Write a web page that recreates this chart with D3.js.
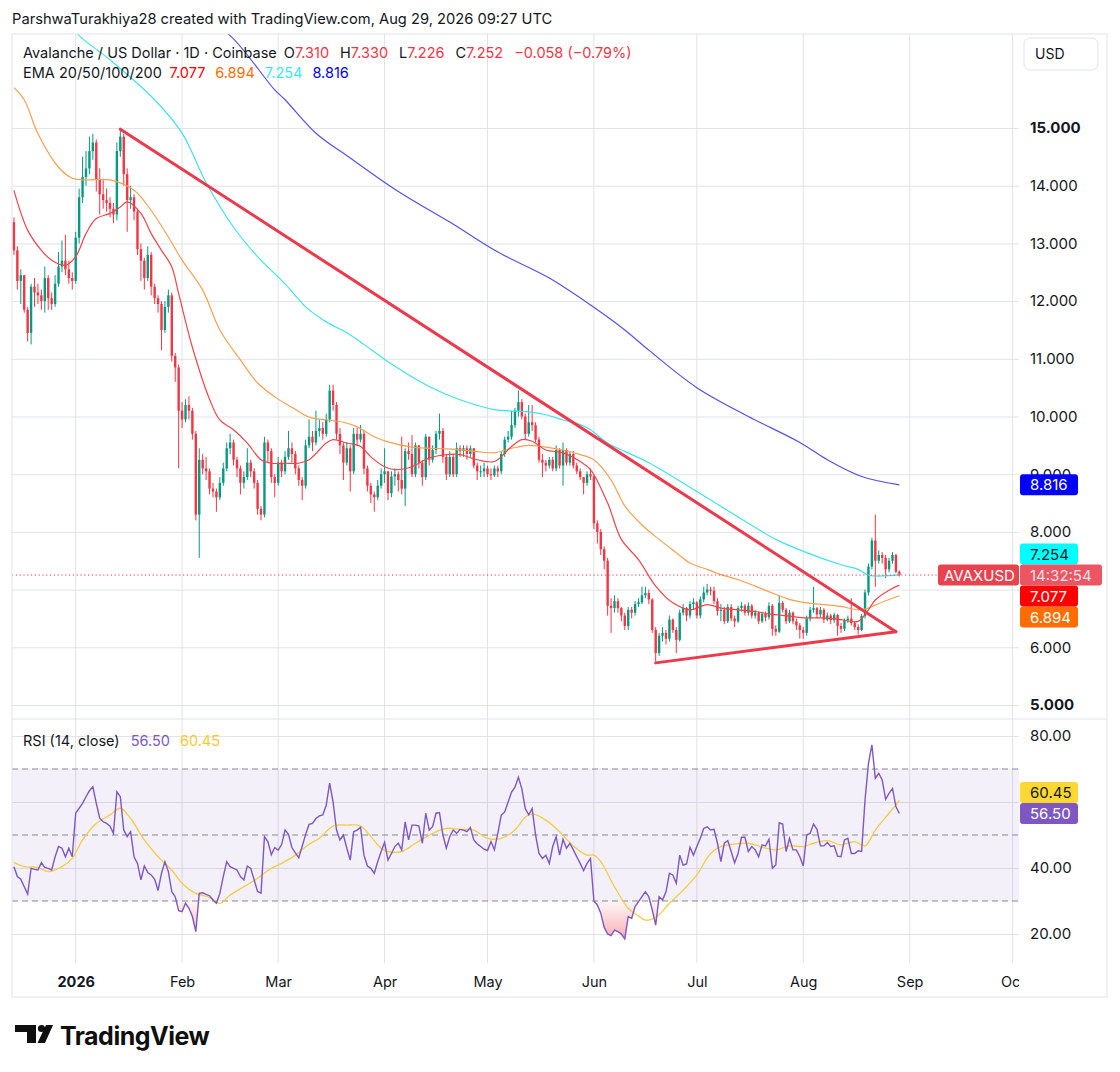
<!DOCTYPE html>
<html>
<head>
<meta charset="utf-8">
<script src="https://cdn.jsdelivr.net/npm/d3@7"></script>
<style>
  body { margin: 0; background: #fff; }
  svg { display: block; font-family: Inter, Roboto, "Noto Sans", sans-serif; }
</style>
</head>
<body>
<div id="vis"></div>
<script>
// daily AVAX/USD candles from 2025-12-14 to 2026-08-29 (open = previous close)
const firstDay = "2025-12-14";
const firstOpen = 13.37;
const closes = [
  12.88, 12.35, 12.45, 11.85, 11.45, 12.25, 12.15, 12.1, 12.0, 12.4, 12.05, 11.95, 12.3, 12.6, 12.7, 12.55, 12.4, 12.35,
  13.1, 13.8, 14.15, 14.3, 14.6, 14.75, 14.1, 13.85, 13.75, 13.7, 13.6, 13.5, 14.6, 14.85, 14.2, 13.75, 13.8, 13.55, 12.9, 12.7, 12.4, 12.8, 12.25, 12.05, 11.95, 11.5, 11.9, 12.1, 11.05, 10.85, 10.1,
  9.95, 10.2, 10.1, 9.7, 8.3, 9.25, 9.1, 9.05, 8.75, 8.7, 8.6, 8.85, 9.1, 9.45, 9.55, 9.25, 9.1, 8.85, 8.95, 9.2, 9.05, 8.85, 8.4, 8.3, 9.55, 9.4, 8.95, 8.85,
  9.2, 9.05, 9.3, 9.45, 9.35, 9.1, 8.9, 8.8, 9.5, 9.65, 9.55, 9.75, 9.8, 9.7, 9.95, 10.45, 10.2, 9.7, 9.5, 9.2, 9.45, 9.05, 9.7, 9.6, 9.7, 9.1, 8.8, 8.65, 8.6, 8.8, 9.0,
  9.05, 8.67, 8.96, 9.0, 8.9, 8.75, 9.4, 9.35, 9.0, 9.5, 9.2, 8.95, 9.65, 9.25, 9.42, 9.7, 9.75, 9.3, 9.0, 9.3, 9.0, 9.45, 9.4, 9.45, 9.35, 9.45, 9.15, 9.05, 9.05, 9.1,
  9.0, 8.98, 9.1, 9.05, 9.35, 9.6, 9.65, 9.85, 10.1, 10.25, 10.0, 9.7, 9.9, 9.85, 9.6, 9.25, 9.2, 9.15, 9.25, 9.1, 9.42, 9.15, 9.42, 9.2, 9.35, 9.15, 9.05, 8.95, 8.85, 9.0, 8.96,
  8.15, 8.0, 7.7, 7.5, 6.72, 6.68, 6.8, 6.68, 6.55, 6.37, 6.65, 6.6, 6.75, 6.78, 6.9, 6.94, 6.83, 6.3, 5.9, 6.2, 6.25, 6.15, 6.48, 6.3, 6.13, 6.6, 6.68, 6.55, 6.75, 6.78,
  6.55, 6.83, 6.95, 7.0, 6.98, 6.8, 6.63, 6.65, 6.45, 6.7, 6.5, 6.45, 6.68, 6.72, 6.6, 6.72, 6.55, 6.6, 6.45, 6.58, 6.52, 6.72, 6.32, 6.27, 6.77, 6.65, 6.45, 6.6, 6.45, 6.38, 6.3,
  6.25, 6.5, 6.65, 6.68, 6.57, 6.65, 6.48, 6.55, 6.47, 6.56, 6.37, 6.32, 6.47, 6.5, 6.42, 6.35, 6.3, 6.54, 6.95, 7.4, 7.85, 7.5, 7.6, 7.55, 7.35, 7.5, 7.6, 7.31, 7.252
];
const highs = [
  13.45, 12.95, 12.55, 12.45, 11.9, 12.3, 12.4, 12.3, 12.2, 12.6, 12.45, 12.15, 12.45, 12.85, 13.05, 13.15, 12.7, 12.5,
  13.2, 13.95, 14.5, 14.6, 14.85, 14.9, 14.8, 14.3, 14.1, 13.95, 13.8, 13.7, 14.75, 15.0, 14.9, 14.3, 14.0, 13.85, 13.6, 13.0, 12.75, 12.95, 12.85, 12.3, 12.1, 12.0, 12.0, 12.2, 12.15, 11.1, 10.9,
  10.25, 10.3, 10.35, 10.15, 9.75, 9.45, 9.35, 9.3, 9.1, 8.85, 8.75, 8.95, 9.2, 9.55, 9.7, 9.6, 9.3, 9.15, 9.05, 9.45, 9.25, 9.1, 8.9, 8.45, 9.65, 9.6, 9.45, 9.0,
  9.3, 9.25, 9.4, 9.75, 9.55, 9.4, 9.15, 8.95, 9.6, 9.95, 9.75, 10.1, 9.95, 9.9, 10.05, 10.55, 10.55, 10.25, 9.8, 9.55, 9.55, 9.5, 9.8, 9.8, 9.85, 9.75, 9.15, 8.85, 8.7, 8.9, 9.1,
  9.45, 9.05, 9.05, 9.1, 9.05, 9.65, 9.45, 9.55, 9.68, 9.55, 9.5, 9.25, 9.7, 9.65, 9.5, 9.75, 10.05, 9.8, 9.35, 9.4, 9.35, 9.55, 9.5, 9.5, 9.5, 9.5, 9.45, 9.2, 9.15, 9.2,
  9.15, 9.1, 9.15, 9.15, 9.4, 9.65, 9.75, 10.1, 10.15, 10.45, 10.3, 10.05, 10.2, 10.2, 9.9, 9.65, 9.35, 9.25, 9.3, 9.3, 9.5, 9.45, 9.55, 9.45, 9.4, 9.4, 9.2, 9.1, 8.95, 9.05, 9.1,
  8.98, 8.2, 8.05, 7.75, 7.55, 6.85, 6.9, 6.85, 6.7, 6.6, 6.7, 6.7, 6.8, 6.85, 7.05, 7.05, 7.0, 6.85, 6.35, 6.25, 6.35, 6.3, 6.55, 6.5, 6.35, 6.65, 6.75, 6.7, 6.8, 6.85,
  6.8, 6.88, 7.05, 7.1, 7.05, 7.05, 6.85, 6.75, 6.7, 6.75, 6.75, 6.55, 6.72, 6.78, 6.75, 6.78, 6.75, 6.65, 6.62, 6.62, 6.62, 6.78, 6.75, 6.38, 6.9, 6.8, 6.68, 6.65, 6.62, 6.5, 6.42,
  6.35, 6.55, 6.7, 7.05, 6.7, 6.7, 6.68, 6.6, 6.58, 6.6, 6.58, 6.42, 6.5, 6.55, 6.85, 6.45, 6.4, 6.58, 7.0, 7.45, 7.9, 8.3, 7.68, 7.65, 7.6, 7.55, 7.65, 7.62, 7.33
];
const lows = [
  12.8, 12.2, 11.95, 11.8, 11.3, 11.25, 11.9, 11.95, 11.85, 11.8, 11.85, 11.85, 11.9, 12.25, 12.5, 12.45, 12.3, 12.2,
  12.3, 13.0, 13.7, 14.0, 14.2, 14.45, 13.9, 13.5, 13.6, 13.55, 13.45, 13.35, 13.4, 14.5, 14.0, 13.2, 13.6, 13.4, 12.8, 12.35, 12.2, 12.35, 12.1, 11.95, 11.8, 11.15, 11.45, 11.8, 10.95, 10.6, 9.1,
  9.8, 9.9, 9.95, 9.6, 8.2, 7.55, 9.0, 8.9, 8.65, 8.6, 8.35, 8.55, 8.8, 9.05, 9.35, 9.15, 8.95, 8.65, 8.75, 8.9, 8.95, 8.75, 8.3, 8.2, 8.25, 9.2, 8.85, 8.6,
  8.8, 8.95, 9.0, 9.25, 9.2, 9.0, 8.8, 8.55, 8.75, 9.45, 9.4, 9.5, 9.65, 9.6, 9.65, 9.9, 10.1, 9.6, 9.35, 8.9, 9.15, 8.7, 9.0, 9.5, 9.55, 9.0, 8.7, 8.5, 8.35, 8.55, 8.75,
  8.85, 8.55, 8.6, 8.8, 8.7, 8.65, 8.45, 9.25, 8.95, 8.95, 9.1, 8.8, 8.9, 9.15, 9.2, 9.35, 9.6, 9.2, 8.9, 8.95, 8.95, 8.95, 9.3, 9.3, 9.25, 9.3, 9.1, 8.9, 8.95, 8.95,
  8.95, 8.9, 8.95, 8.95, 9.0, 9.3, 9.55, 9.6, 9.8, 10.0, 9.95, 9.6, 9.65, 9.75, 9.55, 9.2, 8.95, 9.05, 9.1, 9.05, 9.05, 9.1, 8.8, 9.15, 9.15, 9.1, 9.0, 8.9, 8.65, 8.8, 8.9,
  8.05, 7.8, 7.6, 7.35, 6.55, 6.25, 6.6, 6.6, 6.45, 6.3, 6.3, 6.5, 6.55, 6.7, 6.75, 6.85, 6.75, 6.25, 5.75, 5.85, 6.1, 6.05, 6.1, 6.25, 5.9, 6.1, 6.55, 6.45, 6.5, 6.65,
  6.5, 6.5, 6.78, 6.9, 6.9, 6.75, 6.55, 6.45, 6.4, 6.42, 6.45, 6.35, 6.42, 6.62, 6.55, 6.55, 6.5, 6.5, 6.4, 6.42, 6.45, 6.48, 6.2, 6.2, 6.25, 6.6, 6.4, 6.42, 6.4, 6.3, 6.15,
  6.15, 6.2, 6.45, 6.6, 6.5, 6.52, 6.42, 6.45, 6.4, 6.42, 6.2, 6.25, 6.28, 6.42, 6.38, 6.3, 6.22, 6.28, 6.5, 6.9, 7.35, 7.05, 7.45, 7.45, 7.2, 7.3, 7.45, 7.28, 7.226
];

// EMA lines
const ema20 = [["2025-12-14",13.92],["2025-12-18",13.23],["2025-12-22",12.88],["2025-12-25",12.71],["2025-12-29",12.62],["2026-01-01",12.77],["2026-01-04",13.17],["2026-01-07",13.43],["2026-01-11",13.52],["2026-01-14",13.63],["2026-01-16",13.72],["2026-01-20",13.52],["2026-01-23",13.17],["2026-01-26",12.88],["2026-01-29",12.59],["2026-01-31",12.13],["2026-02-04",11.2],["2026-02-09",10.3],["2026-02-12",9.94],["2026-02-16",9.77],["2026-02-20",9.54],["2026-02-24",9.25],["2026-02-27",9.19],["2026-03-03",9.19],["2026-03-07",9.19],["2026-03-10",9.25],["2026-03-15",9.54],["2026-03-17",9.6],["2026-03-21",9.54],["2026-03-25",9.48],["2026-03-28",9.3],["2026-04-01",9.13],["2026-04-04",9.08],["2026-04-09",9.13],["2026-04-14",9.28],["2026-04-19",9.34],["2026-04-23",9.34],["2026-04-28",9.25],["2026-05-03",9.22],["2026-05-08",9.48],["2026-05-11",9.6],["2026-05-14",9.57],["2026-05-18",9.42],["2026-05-23",9.37],["2026-05-28",9.22],["2026-05-31",9.08],["2026-06-05",8.5],["2026-06-09",7.87],["2026-06-14",7.52],["2026-06-19",7.06],["2026-06-24",6.77],["2026-06-29",6.65],["2026-07-04",6.74],["2026-07-08",6.68],["2026-07-13",6.65],["2026-07-18",6.62],["2026-07-23",6.57],["2026-07-28",6.54],["2026-08-02",6.51],["2026-08-07",6.51],["2026-08-12",6.48],["2026-08-17",6.45],["2026-08-20",6.65],["2026-08-22",6.82],["2026-08-26",6.99],["2026-08-29",7.077]];
const ema50 = [["2025-12-14",15.7],["2025-12-17",15.49],["2025-12-21",14.9],["2025-12-27",14.32],["2025-12-31",14.13],["2026-01-04",14.1],["2026-01-11",14.1],["2026-01-18",13.92],["2026-01-23",13.57],["2026-01-28",13.11],["2026-02-01",12.71],["2026-02-07",12.19],["2026-02-12",11.5],["2026-02-18",10.98],["2026-02-23",10.58],["2026-02-28",10.34],["2026-03-05",10.16],["2026-03-10",9.99],["2026-03-15",9.94],["2026-03-20",9.9],["2026-03-24",9.82],["2026-03-29",9.65],["2026-04-02",9.56],["2026-04-09",9.47],["2026-04-14",9.45],["2026-04-19",9.44],["2026-04-23",9.42],["2026-04-28",9.39],["2026-05-03",9.37],["2026-05-08",9.45],["2026-05-13",9.5],["2026-05-18",9.47],["2026-05-23",9.42],["2026-05-28",9.34],["2026-06-01",9.25],["2026-06-06",8.9],["2026-06-10",8.45],["2026-06-15",8.12],["2026-06-20",7.87],["2026-06-25",7.64],["2026-06-29",7.46],["2026-07-04",7.35],["2026-07-08",7.26],["2026-07-13",7.17],["2026-07-18",7.06],["2026-07-23",6.94],["2026-07-28",6.83],["2026-08-02",6.77],["2026-08-07",6.74],["2026-08-12",6.71],["2026-08-17",6.65],["2026-08-20",6.68],["2026-08-23",6.76],["2026-08-29",6.894]];
const ema100 = [["2025-12-28",16.95],["2026-01-02",16.6],["2026-01-11",16.18],["2026-01-24",15.49],["2026-02-01",14.91],["2026-02-08",14.05],["2026-02-16",13.28],["2026-02-23",12.77],["2026-03-03",12.3],["2026-03-09",11.9],["2026-03-15",11.64],["2026-03-21",11.45],["2026-03-26",11.25],["2026-04-02",10.95],["2026-04-14",10.52],["2026-04-23",10.29],["2026-05-03",10.12],["2026-05-13",10.08],["2026-05-18",10.03],["2026-05-23",9.94],["2026-05-28",9.86],["2026-05-31",9.77],["2026-06-05",9.54],["2026-06-17",9.2],["2026-07-01",8.7],["2026-07-16",8.15],["2026-07-24",7.87],["2026-08-02",7.64],["2026-08-12",7.43],["2026-08-17",7.35],["2026-08-20",7.25],["2026-08-29",7.254]];
const ema200 = [["2026-02-05",17.0],["2026-02-15",16.6],["2026-02-28",15.66],["2026-03-03",15.49],["2026-03-12",14.91],["2026-03-22",14.48],["2026-04-05",13.9],["2026-04-20",13.37],["2026-05-04",12.85],["2026-05-19",12.4],["2026-06-02",11.85],["2026-06-10",11.5],["2026-06-17",11.15],["2026-07-01",10.5],["2026-07-16",10.0],["2026-07-31",9.55],["2026-08-08",9.25],["2026-08-18",8.96],["2026-08-29",8.816]];

// drawn trendlines (triangle)
const trendUpper = [["2026-01-14",14.98],["2026-08-28",6.27]];
const trendLower = [["2026-06-19",5.73],["2026-08-28",6.27]];

// RSI(14), one value per candle
const rsiValues = [
  40.4, 37.4, 36.6, 34.3, 32.1, 39.9, 39.6, 39.4, 41.6, 40.2, 39.9, 39.4, 43.4, 46.5, 46.0, 43.4, 46.0, 43.4,
  56.6, 58.1, 59.6, 61.6, 63.4, 64.6, 59.6, 55.1, 54.0, 53.5, 52.7, 50.5, 63.1, 61.6, 51.5, 49.5, 51.0, 43.4, 41.4, 36.4, 40.6, 38.6, 37.9, 36.6, 33.2, 38.4, 41.9, 38.9, 32.8, 31.3, 27.1,
  26.8, 29.3, 27.8, 25.3, 20.7, 32.3, 32.5, 32.0, 31.6, 30.3, 29.3, 32.3, 37.4, 41.9, 40.4, 39.9, 39.4, 37.4, 36.4, 40.6, 39.9, 36.4, 32.9, 32.4, 49.5, 48.0, 44.0, 46.2,
  45.4, 47.1, 51.5, 50.2, 46.2, 44.6, 43.1, 46.6, 50.2, 53.2, 53.5, 55.0, 55.8, 56.1, 59.0, 65.7, 60.0, 51.5, 48.5, 50.0, 46.0, 42.4, 51.0, 51.5, 52.3, 43.9, 40.6, 39.9, 38.4, 41.9, 45.0,
  47.8, 42.4, 44.4, 46.5, 47.5, 45.5, 54.0, 48.5, 53.0, 53.0, 52.7, 47.5, 56.6, 51.5, 52.5, 56.6, 56.8, 50.0, 46.0, 49.5, 51.5, 50.5, 51.7, 51.5, 51.0, 52.3, 48.5, 47.3, 46.5, 45.7,
  45.3, 48.0, 45.5, 50.5, 56.0, 57.0, 60.0, 63.0, 64.5, 67.5, 64.0, 58.0, 56.1, 58.0, 50.0, 44.4, 42.9, 43.9, 41.4, 46.5, 49.5, 43.9, 48.7, 46.0, 47.5, 45.5, 43.4, 41.4, 39.2, 41.4, 42.9,
  30.0, 28.8, 26.3, 22.0, 20.0, 19.5, 21.2, 20.7, 20.0, 18.5, 25.3, 24.7, 28.3, 29.8, 31.3, 32.8, 31.3, 27.3, 22.7, 31.3, 30.3, 32.8, 38.4, 37.9, 35.4, 43.9, 40.9, 41.2, 46.3, 43.9,
  46.5, 49.0, 52.0, 52.5, 51.5, 51.7, 47.5, 41.9, 47.5, 48.3, 45.0, 41.6, 44.4, 49.3, 49.3, 45.0, 46.5, 45.5, 43.4, 47.0, 46.7, 48.7, 39.9, 40.9, 53.7, 53.3, 45.0, 49.0, 45.5, 45.5, 43.4,
  40.6, 50.0, 50.5, 53.3, 51.7, 46.7, 46.7, 47.7, 46.5, 46.7, 43.6, 43.4, 48.5, 49.0, 44.4, 44.4, 45.2, 45.0, 60.6, 71.7, 77.3, 67.2, 68.7, 66.7, 60.8, 62.6, 64.1, 58.6, 56.5
];
// RSI-based moving average
const rsiMa = [["2025-12-14",41.7],["2025-12-17",40.4],["2025-12-21",40.2],["2025-12-24",38.9],["2025-12-28",40.4],["2025-12-31",42.9],["2026-01-03",48.5],["2026-01-07",53.5],["2026-01-11",56.1],["2026-01-14",58.1],["2026-01-17",55],["2026-01-21",48.5],["2026-01-25",43.4],["2026-01-29",39.4],["2026-02-01",35.4],["2026-02-05",32.3],["2026-02-09",31.1],["2026-02-12",29.3],["2026-02-15",31.8],["2026-02-19",34.3],["2026-02-23",36.9],["2026-02-27",39.9],["2026-03-02",41.4],["2026-03-06",43.9],["2026-03-10",47.2],["2026-03-13",49],["2026-03-17",52.7],["2026-03-21",53],["2026-03-25",52.7],["2026-03-28",49.5],["2026-03-31",46],["2026-04-02",45],["2026-04-06",45],["2026-04-10",47.5],["2026-04-15",50.5],["2026-04-19",52],["2026-04-23",51.7],["2026-04-27",51.5],["2026-05-01",49],["2026-05-05",49],["2026-05-09",51.5],["2026-05-12",55.4],["2026-05-14",56.4],["2026-05-18",54.5],["2026-05-22",51],["2026-05-26",46.7],["2026-05-30",43.9],["2026-06-01",43.9],["2026-06-03",41.9],["2026-06-07",34.3],["2026-06-11",27.8],["2026-06-14",25.5],["2026-06-16",24.2],["2026-06-19",25],["2026-06-23",29.3],["2026-06-27",33.3],["2026-07-01",37.9],["2026-07-05",44.4],["2026-07-08",46.5],["2026-07-12",47.3],["2026-07-16",47.5],["2026-07-20",46.3],["2026-07-24",45.5],["2026-07-28",46.7],["2026-08-01",46.5],["2026-08-04",47.5],["2026-08-08",48.3],["2026-08-12",47],["2026-08-16",48],["2026-08-19",46.7],["2026-08-22",51.5],["2026-08-26",56.6],["2026-08-29",60.45]];

const priceTicks = [5, 6, 7, 8, 9, 10, 11, 12, 13, 14, 15];
const rsiTicks = [20, 40, 60, 80];
const rsiLevels = [30, 50, 70];
const monthNames = ["2026", "Feb", "Mar", "Apr", "May", "Jun", "Jul", "Aug", "Sep", "Oct"];
const countdown = "14:32:54";

// ---- layout ----
const W = 1120, H = 1072;
const paneL = 12, paneR = 1019, frameR = 1107;
const paneTop = 34, priceBot = 719, rsiBot = 963, frameBot = 997;
const ink = "#131722", upCol = "#089981", downCol = "#f23645", grid = "#e1e3e8";
const parse = d3.utcParse("%Y-%m-%d");
const fmt3 = d3.format(".3f"), fmt2 = d3.format(".2f");

const x = d3.scaleUtc().domain([new Date(Date.UTC(2026, 0, 1)), new Date(Date.UTC(2026, 9, 1))]).range([75.7, 1012.6]);
const y = d3.scaleLinear().domain([5, 15]).range([705, 128]);
const yR = d3.scaleLinear().domain([20, 80]).range([934, 736]);
const dayW = x(new Date(Date.UTC(2026, 0, 2))) - x(new Date(Date.UTC(2026, 0, 1)));

const candles = closes.map((c, i) => ({
  date: d3.utcDay.offset(parse(firstDay), i),
  open: i === 0 ? firstOpen : closes[i - 1],
  high: highs[i], low: lows[i], close: c
}));
const rsi = rsiValues.map((v, i) => ({ date: d3.utcDay.offset(parse(firstDay), i), v }));
const pts = arr => arr.map(([d, v]) => ({ date: parse(d), v }));

const svg = d3.select("#vis").append("svg").attr("width", W).attr("height", H);
const defs = svg.append("defs");
defs.append("clipPath").attr("id", "cp").append("rect").attr("x", paneL).attr("y", paneTop).attr("width", paneR - paneL).attr("height", priceBot - paneTop);
defs.append("clipPath").attr("id", "cr").append("rect").attr("x", paneL).attr("y", priceBot).attr("width", paneR - paneL).attr("height", rsiBot - priceBot);
defs.append("clipPath").attr("id", "ct").append("rect").attr("x", paneL).attr("y", rsiBot).attr("width", paneR - paneL).attr("height", frameBot - rsiBot);
const grad = defs.append("linearGradient").attr("id", "os").attr("gradientUnits", "userSpaceOnUse")
  .attr("x1", 0).attr("x2", 0).attr("y1", yR(30)).attr("y2", yR(17));
grad.append("stop").attr("offset", 0).attr("stop-color", "#f23645").attr("stop-opacity", 0.04);
grad.append("stop").attr("offset", 1).attr("stop-color", "#f23645").attr("stop-opacity", 0.45);

// title
svg.append("text").attr("x", 12).attr("y", 24).attr("font-size", 14.7).attr("fill", ink)
  .text("ParshwaTurakhiya28 created with TradingView.com, Aug 29, 2026 09:27 UTC");

// vertical month gridlines through both panes
svg.append("g").selectAll("line").data(x.ticks(d3.utcMonth.every(1))).join("line")
  .attr("x1", d => x(d)).attr("x2", d => x(d)).attr("y1", paneTop).attr("y2", rsiBot).attr("stroke", grid);

// horizontal gridlines
svg.append("g").attr("transform", `translate(${paneL},0)`)
  .call(d3.axisLeft(y).tickValues(priceTicks).tickSize(-(paneR - paneL)).tickFormat(""))
  .call(g => g.select(".domain").remove())
  .call(g => g.selectAll("line").attr("stroke", grid));
svg.append("g").attr("transform", `translate(${paneL},0)`)
  .call(d3.axisLeft(yR).tickValues(rsiTicks).tickSize(-(paneR - paneL)).tickFormat(""))
  .call(g => g.select(".domain").remove())
  .call(g => g.selectAll("line").attr("stroke", grid));

// RSI band and levels
svg.append("rect").attr("x", paneL).attr("width", paneR - paneL)
  .attr("y", yR(70)).attr("height", yR(30) - yR(70)).attr("fill", "#7e57c2").attr("fill-opacity", 0.09);
svg.append("g").selectAll("line").data(rsiLevels).join("line")
  .attr("x1", paneL).attr("x2", paneR).attr("y1", d => yR(d)).attr("y2", d => yR(d))
  .attr("stroke", "#868993").attr("stroke-dasharray", "6,4");

// candles
const pane = svg.append("g").attr("clip-path", "url(#cp)");
const bw = Math.max(1.6, dayW * 0.7);
const cg = pane.append("g").selectAll("g").data(candles).join("g")
  .attr("fill", d => d.close >= d.open ? upCol : downCol).attr("stroke", d => d.close >= d.open ? upCol : downCol);
cg.append("line")
  .attr("x1", d => x(d.date)).attr("x2", d => x(d.date))
  .attr("y1", d => y(Math.max(d.high, d.open, d.close))).attr("y2", d => y(Math.min(d.low, d.open, d.close)))
  .attr("stroke-width", 1);
cg.append("rect")
  .attr("x", d => x(d.date) - bw / 2).attr("width", bw)
  .attr("y", d => y(Math.max(d.open, d.close)))
  .attr("height", d => Math.max(1, Math.abs(y(d.open) - y(d.close))))
  .attr("stroke", "none");

// EMAs
const smooth = d3.curveCatmullRom.alpha(0.5);
const priceLine = d3.line().x(d => x(d.date)).y(d => y(d.v)).curve(smooth);
const emas = [
  { data: ema200, line: "#5252e8", label: "#0000ff", text: "#fff" },
  { data: ema100, line: "#3fe3ec", label: "#00ffff", text: ink },
  { data: ema50, line: "#f8a050", label: "#ff6d00", text: "#fff" },
  { data: ema20, line: "#f0454a", label: "#ff0000", text: "#fff" }
];
emas.forEach(e => pane.append("path").attr("d", priceLine(pts(e.data)))
  .attr("fill", "none").attr("stroke", e.line).attr("stroke-width", 1.2));

// trendlines
[trendUpper, trendLower].forEach(t => pane.append("path")
  .attr("d", d3.line().x(d => x(d.date)).y(d => y(d.v))(pts(t)))
  .attr("stroke", "#ec3a4c").attr("stroke-width", 3).attr("stroke-linecap", "round").attr("fill", "none"));

// last price dotted line
const last = candles[candles.length - 1];
svg.append("line").attr("x1", paneL).attr("x2", paneR).attr("y1", y(last.close)).attr("y2", y(last.close))
  .attr("stroke", downCol).attr("stroke-dasharray", "1.2,2.6");

// RSI pane
const rp = svg.append("g").attr("clip-path", "url(#cr)");
rp.append("path").datum(rsi)
  .attr("d", d3.area().x(d => x(d.date)).y0(yR(30)).y1(d => yR(Math.min(d.v, 30))))
  .attr("fill", "url(#os)");
rp.append("path").attr("d", d3.line().x(d => x(d.date)).y(d => yR(d.v)).curve(smooth)(pts(rsiMa)))
  .attr("fill", "none").attr("stroke", "#f7cb45").attr("stroke-width", 1.3);
rp.append("path").datum(rsi).attr("d", d3.line().x(d => x(d.date)).y(d => yR(d.v)))
  .attr("fill", "none").attr("stroke", "#7e57c2").attr("stroke-width", 1.4);

// value labels on the scale, pushed apart around the last price
function stackLabels(items, fixed, h) {
  const f = items.find(d => d.key === fixed);
  let lim = f.y;
  items.filter(d => d !== f && d.y <= f.y).sort((a, b) => b.y - a.y)
    .forEach(d => { d.y = Math.min(d.y, lim - h); lim = d.y; });
  lim = f.y;
  items.filter(d => d !== f && d.y > f.y).sort((a, b) => a.y - b.y)
    .forEach(d => { d.y = Math.max(d.y, lim + h); lim = d.y; });
  return items;
}
const boxH = 21;
const priceLabels = stackLabels([
  { key: "last", y: y(last.close) },
  ...emas.map(e => { const v = e.data[e.data.length - 1][1]; return { key: e.label, y: y(v), v, fill: e.label, text: e.text, f: fmt3 }; })
], "last", boxH);
const lastRsi = rsiValues[rsiValues.length - 1], lastMa = rsiMa[rsiMa.length - 1][1];
const rsiLabels = stackLabels([
  { key: "rsi", y: yR(lastRsi), v: lastRsi, fill: "#7e57c2", text: "#fff", f: fmt2 },
  { key: "ma", y: yR(lastMa), v: lastMa, fill: "#fdd835", text: ink, f: fmt2 }
], "rsi", boxH);
// scale ticks that sit right under a value label are hidden, as on the chart
const covered = (ty, labels) => labels.some(l => Math.abs(l.y - ty) < 10);

// right price scale
svg.append("g").attr("transform", `translate(${paneR},0)`)
  .call(d3.axisRight(y).tickValues(priceTicks.filter(t => !covered(y(t), priceLabels)))
    .tickFormat(fmt3).tickSize(0).tickPadding(11))
  .call(g => g.select(".domain").remove())
  .call(g => g.selectAll("text").attr("font-size", 15).attr("fill", ink)
    .attr("font-family", "Inter, Roboto, sans-serif")
    .attr("font-weight", d => (d === 15 || d === 5) ? 700 : 400));
svg.append("g").attr("transform", `translate(${paneR},0)`)
  .call(d3.axisRight(yR).tickValues(rsiTicks.filter(t => !covered(yR(t), rsiLabels)))
    .tickFormat(fmt2).tickSize(0).tickPadding(11))
  .call(g => g.select(".domain").remove())
  .call(g => g.selectAll("text").attr("font-size", 15).attr("fill", ink).attr("font-family", "Inter, Roboto, sans-serif"));

const lab = svg.append("g").attr("font-size", 15);
priceLabels.filter(d => d.key !== "last").concat(rsiLabels).forEach(d => {
  lab.append("rect").attr("x", paneR + 1).attr("y", d.y - boxH / 2).attr("width", 58).attr("height", boxH)
    .attr("rx", 3).attr("fill", d.fill);
  lab.append("text").attr("x", paneR + 11).attr("y", d.y + 5.5).attr("fill", d.text).text(d.f(d.v));
});
const ly = priceLabels.find(d => d.key === "last").y;
lab.append("rect").attr("x", 938).attr("y", ly - boxH / 2).attr("width", paneR - 938).attr("height", boxH).attr("rx", 3).attr("fill", "#e9424f");
lab.append("text").attr("x", 944).attr("y", ly + 5.5).attr("fill", "#fff").text("AVAXUSD");
lab.append("rect").attr("x", paneR + 1).attr("y", ly - boxH / 2).attr("width", frameR - 6 - paneR).attr("height", boxH).attr("rx", 3).attr("fill", "#ec5562");
lab.append("text").attr("x", paneR + 11).attr("y", ly + 5.5).attr("fill", "#fde2e5").text(countdown);

// legends
const lg = svg.append("g").attr("font-size", 14.5).attr("fill", ink);
const lastOpen = last.open, chg = last.close - lastOpen;
const t1 = lg.append("text").attr("x", 23).attr("y", 58);
t1.append("tspan").text("Avalanche / US Dollar · 1D · Coinbase");
[["O", lastOpen], ["H", last.high], ["L", last.low], ["C", last.close]].forEach(([k, v], i) => {
  t1.append("tspan").attr("dx", i === 0 ? 7 : 11).text(k);
  t1.append("tspan").attr("fill", downCol).text(fmt3(v));
});
t1.append("tspan").attr("dx", 11).attr("fill", downCol)
  .text(`${fmt3(chg).replace("-", "−")} (${d3.format(".2%")(chg / lastOpen).replace("-", "−")})`);
const t2 = lg.append("text").attr("x", 23).attr("y", 78);
t2.append("tspan").text("EMA 20/50/100/200");
const emaLegendCols = ["#ff0000", "#ff6d00", "#3de8f0", "#0000ff"];
[ema20, ema50, ema100, ema200].forEach((a, i) => {
  t2.append("tspan").attr("dx", i === 0 ? 8 : 10).attr("fill", emaLegendCols[i]).text(fmt3(a[a.length - 1][1]));
});
const t3 = lg.append("text").attr("x", 23).attr("y", 746);
t3.append("tspan").text("RSI (14, close)");
t3.append("tspan").attr("dx", 11).attr("fill", "#7e57c2").text(fmt2(lastRsi));
t3.append("tspan").attr("dx", 10).attr("fill", "#f5c932").text(fmt2(lastMa));

// USD box
svg.append("rect").attr("x", 1024).attr("y", 38).attr("width", 74).attr("height", 32).attr("rx", 6)
  .attr("fill", "#fff").attr("stroke", "#e0e3eb");
svg.append("text").attr("x", 1035).attr("y", 59).attr("font-size", 14).attr("fill", ink).text("USD");

// time axis labels (clip in page space, axis shifted inside)
svg.append("g").attr("clip-path", "url(#ct)")
  .append("g").attr("transform", `translate(0,${rsiBot})`)
  .call(d3.axisBottom(x).ticks(d3.utcMonth.every(1)).tickSize(0).tickPadding(14)
    .tickFormat(d => monthNames[d.getUTCMonth()]))
  .call(g => g.select(".domain").remove())
  .call(g => g.selectAll("text").attr("font-size", 14.5).attr("fill", ink)
    .attr("font-family", "Inter, Roboto, sans-serif")
    .attr("font-weight", d => d.getUTCMonth() === 0 ? 700 : 400));

// frame
const fr = svg.append("g").attr("stroke", "#e0e3eb").attr("fill", "none");
fr.append("rect").attr("x", paneL).attr("y", paneTop).attr("width", frameR - paneL).attr("height", frameBot - paneTop);
fr.append("line").attr("x1", paneL).attr("x2", frameR).attr("y1", priceBot).attr("y2", priceBot);

// TradingView logo
const logo = svg.append("g").attr("fill", "#0f0f0f");
logo.append("path").attr("d", "M15,1025 H36 V1043 H27 V1032 H15 Z");
logo.append("circle").attr("cx", 41.5).attr("cy", 1028.5).attr("r", 3.6);
logo.append("path").attr("d", "M46,1025 H53 L45,1043 H37.5 Z");
svg.append("text").attr("x", 60).attr("y", 1045).attr("font-size", 25).attr("font-weight", 700)
  .attr("letter-spacing", -0.5).attr("fill", "#0f0f0f").text("TradingView");
</script>
</body>
</html>
